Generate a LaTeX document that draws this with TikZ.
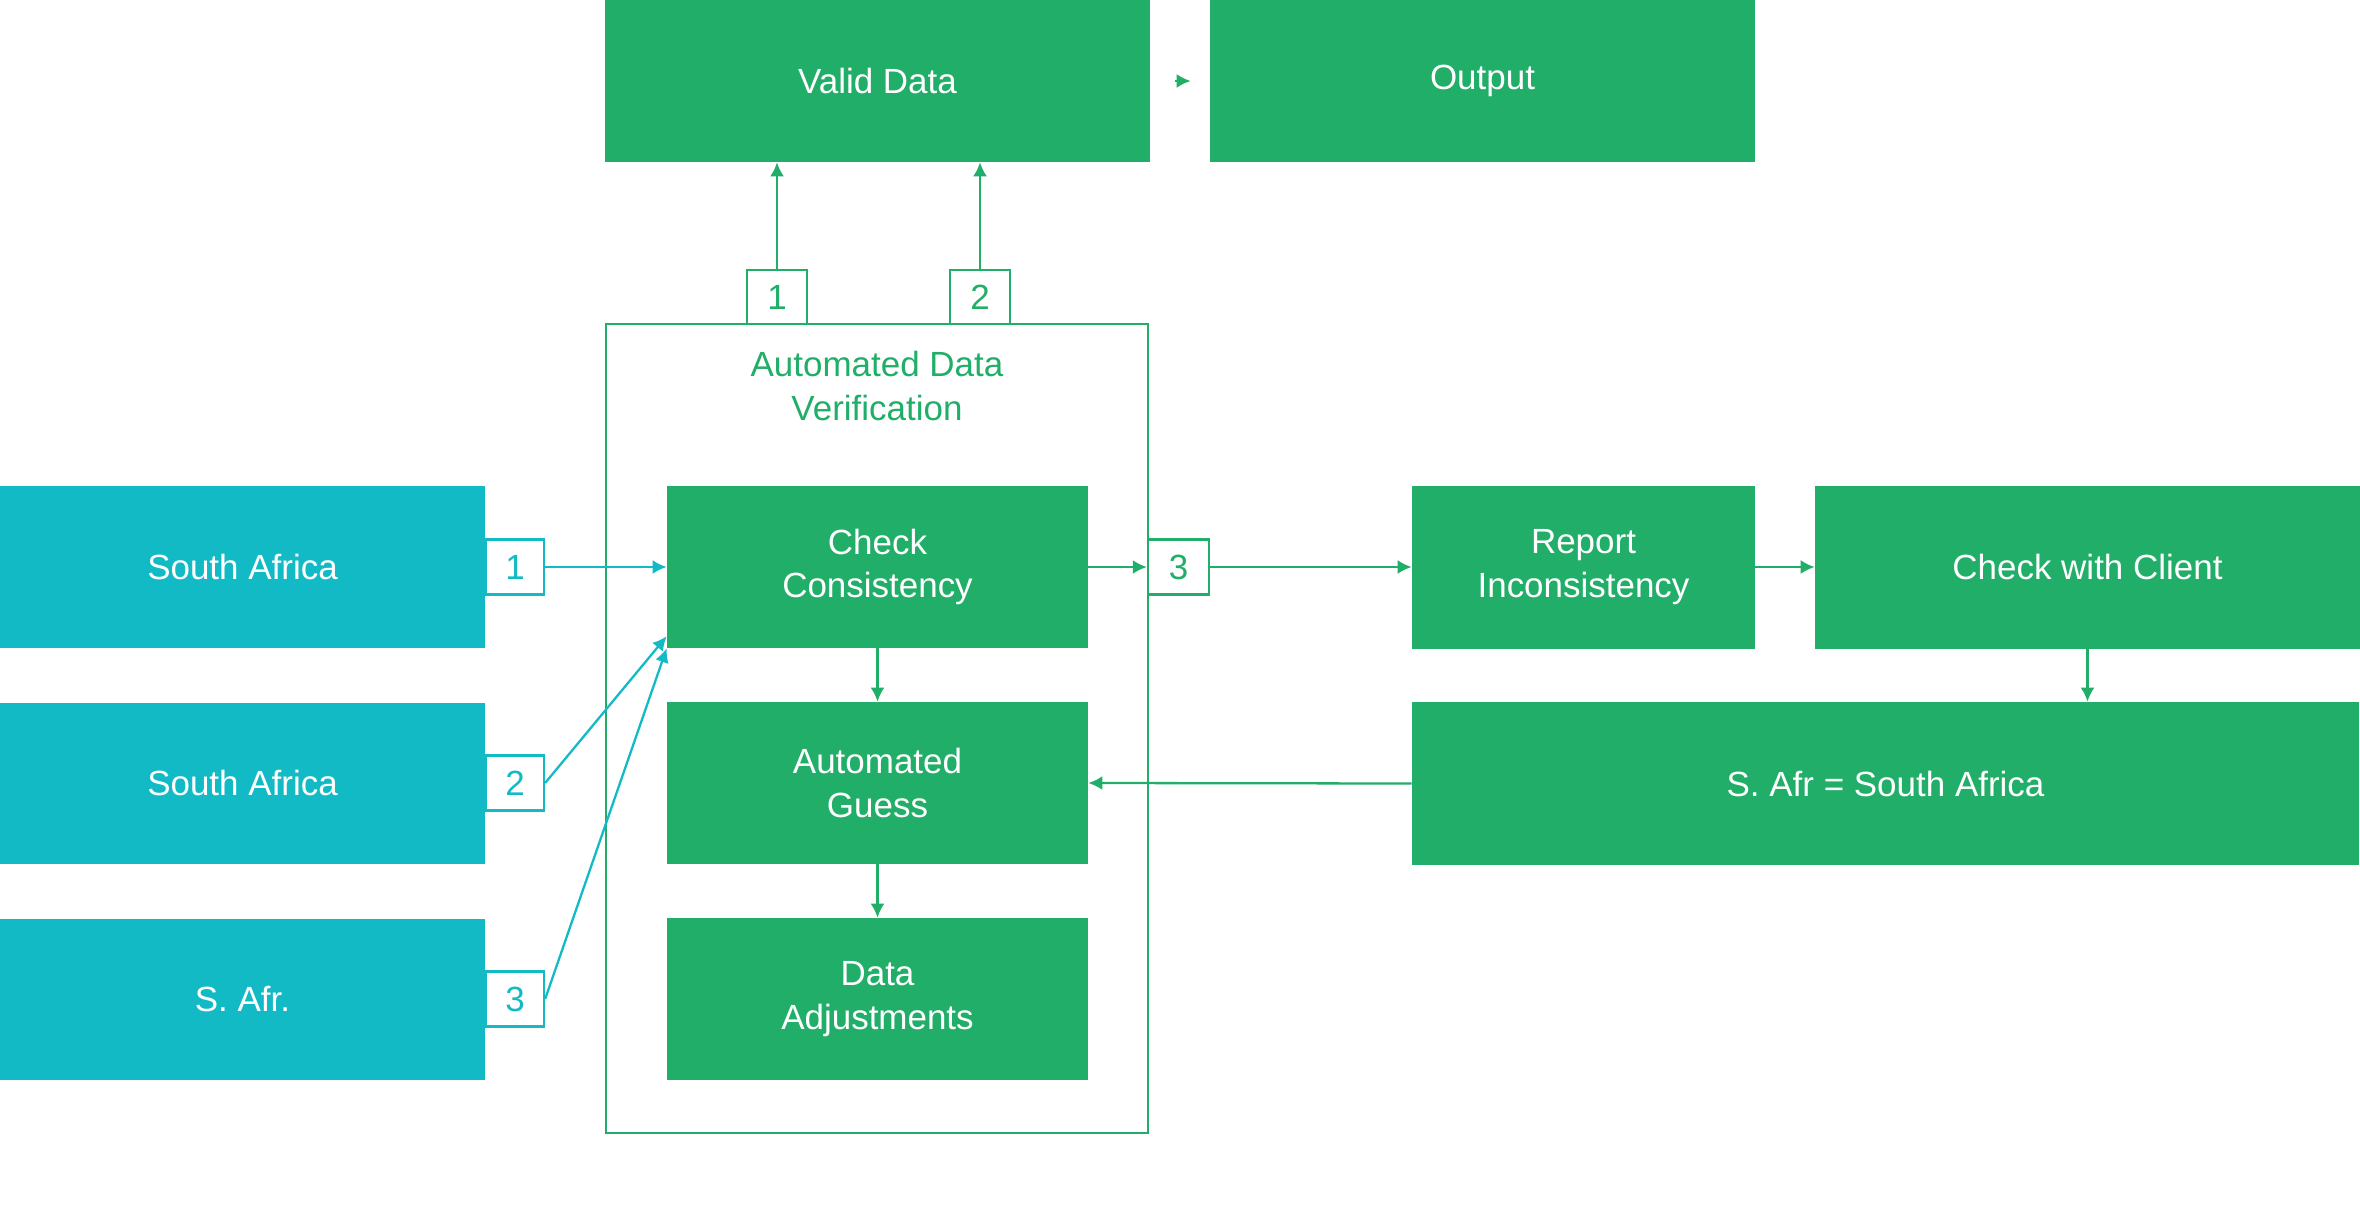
\documentclass[tikz,border=0pt]{standalone}
\usepackage{fontspec}
\setmainfont{Liberation Sans}
\usetikzlibrary{positioning,arrows.meta}
\definecolor{grn}{RGB}{33,174,104}
\definecolor{tl}{RGB}{18,186,198}
\tikzset{>={Latex[length=2.8mm,width=2.8mm]}}
\tikzset{
  gbox/.style={rectangle, fill=grn, text=white, inner sep=0pt, align=center, minimum height=3.24cm},
  sbox/.style={rectangle, fill=tl, text=white, inner sep=0pt, align=center, minimum width=9.7cm, minimum height=3.22cm},
  gnum/.style={rectangle, draw=grn, text=grn, fill=white, line width=1.3pt, inner sep=0pt, minimum width=1.2cm, minimum height=1.08cm},
  tnum/.style={rectangle, draw=tl, text=tl, fill=white, line width=1.3pt, inner sep=0pt, minimum width=1.16cm, minimum height=1.1cm},
  garr/.style={->, draw=grn, line width=1.3pt},
  tarr/.style={->, draw=tl, line width=1.3pt}
}

\begin{document}
\begin{tikzpicture}[font=\fontsize{19.9}{24.8}\selectfont]
      \useasboundingbox (0,0) rectangle (47.2,-24.2);
      \node[gbox, minimum width=10.9cm] (n1) at (17.55,-1.62) {Valid Data};
      \node[gbox, minimum width=10.9cm, right of=n1, node distance=12.1cm] (n2) {Output};
      \node[draw=grn, line width=1.3pt, minimum width=10.84cm, minimum height=16.18cm] (frame) at (17.54,-14.57) {};
      \node[text=grn, align=center] (title) at ([yshift=-1.26cm]frame.north) {Automated Data\\Verification};
      \node[gbox, minimum width=8.42cm, below of=n1, node distance=9.72cm] (n3) {Check\\Consistency};
      \node[gbox, minimum width=8.42cm, below of=n3, node distance=4.32cm] (n4) {Automated\\Guess};
      \node[gbox, minimum width=8.42cm, below of=n4, node distance=4.32cm] (n5) {Data\\Adjustments};
      \node[sbox, left of=n3, node distance=12.7cm] (s1) {South Africa};
      \node[sbox, below of=s1, node distance=4.32cm] (s2) {South Africa};
      \node[sbox, below of=s2, node distance=4.32cm] (s3) {S. Afr.};
      \node[tnum, right of=s1, node distance=5.45cm] (l1) {1};
      \node[tnum, right of=s2, node distance=5.45cm] (l2) {2};
      \node[tnum, right of=s3, node distance=5.45cm] (l3) {3};
      \node[gnum] (t1) at (15.54,-5.94) {1};
      \node[gnum] (t2) at (19.6,-5.94) {2};
      \node[gnum, minimum width=1.22cm, minimum height=1.1cm, right of=n3, node distance=6.02cm] (r3) {3};
      \node[gbox, minimum width=6.86cm, minimum height=3.26cm, right of=r3, node distance=8.1cm] (n6) {Report\\Inconsistency};
      \node[gbox, minimum width=10.9cm, minimum height=3.26cm, right of=n6, node distance=10.08cm] (n7) {Check with Client};
      \node[gbox, minimum width=18.94cm, minimum height=3.26cm] (n8) at (37.71,-15.67) {S. Afr = South Africa};
      \draw[->, draw=grn, fill=grn, line width=1.3pt, shorten <=0.5cm, shorten >=0.38cm] (n1) -- (n2);
      \draw[garr] (t1.north) -- (t1.north |- n1.south);
      \draw[garr] (t2.north) -- (t2.north |- n1.south);
      \draw[tarr] (l1.east) -- (n3.west);
      \draw[tarr] (l2.east) -- ([yshift=0.24cm]n3.south west);
      \draw[tarr] (l3.east) -- (n3.south west);
      \draw[garr] (n3.east) -- (r3.west);
      \draw[garr] (r3.east) -- (n6.west);
      \draw[garr] (n6.east) -- (n7.west);
      \draw[garr] (n7.south) -- (n7.south |- n8.north);
      \draw[garr] (n8.west) -- (n4.east);
      \draw[garr] (n3.south) -- (n4.north);
      \draw[garr] (n4.south) -- (n5.north);
    \end{tikzpicture}
\end{document}
